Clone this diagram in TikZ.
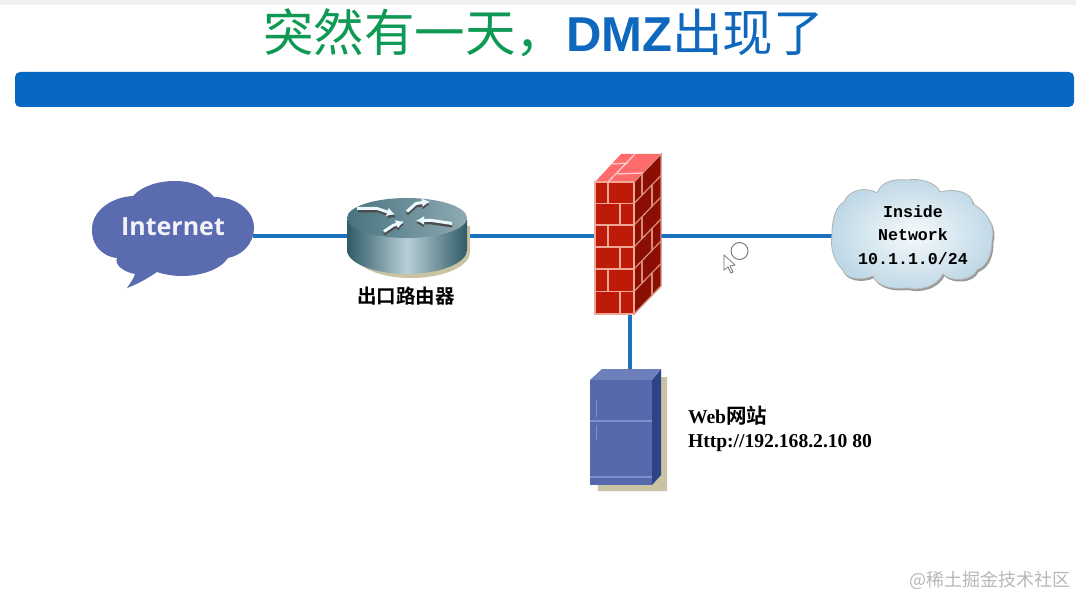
\documentclass[tikz,border=0pt]{standalone}
\usepackage{fontspec}
\usetikzlibrary{arrows.meta}
\setmainfont{Liberation Serif}
\newfontfamily\cjk{Noto Sans CJK SC}
\newfontfamily\cjkb{Noto Sans CJK SC}[BoldFont={Noto Sans CJK SC Bold}]
\newfontfamily\arialb{Liberation Sans}[Scale=1]
\newfontfamily\monob{Liberation Mono}
\newfontfamily\opensans{Open Sans}
\definecolor{linkblue}{HTML}{1C72BC}
\definecolor{barblue}{HTML}{0768C3}
\definecolor{titlegreen}{HTML}{0E9A55}
\definecolor{titleblue}{HTML}{0F68BE}
\definecolor{cloudblue}{HTML}{5A6BB0}
\definecolor{brick}{HTML}{BD1A08}
\definecolor{brickside}{HTML}{8A0E02}
\definecolor{mortar}{HTML}{EFA898}
\definecolor{mortarside}{HTML}{D88A78}
\definecolor{bricktop}{HTML}{FF6A6A}
\definecolor{tan}{HTML}{C9C3A4}
\definecolor{srvfront}{HTML}{5669AD}
\definecolor{srvside}{HTML}{2E4488}
\definecolor{srvtop}{HTML}{6E80BC}
\definecolor{srvline}{HTML}{8090C8}
\definecolor{rdark}{HTML}{2F5A66}
\definecolor{rlight}{HTML}{B7D0D6}
\definecolor{rtopa}{HTML}{47737F}
\definecolor{rtopb}{HTML}{8FAAB2}
\definecolor{cloudin}{HTML}{F6FAFC}
\definecolor{cloudout}{HTML}{BFD8E6}
\tikzset{
  anchorbox/.style={inner sep=0pt,outer sep=0pt,minimum height=#1},
  link/.style={draw=linkblue,line width=3.5pt},
  rarrow/.style={draw=white!92!cyan,line width=3pt,-{Latex[length=8pt,width=9pt]}},
  rshade/.style={draw=black!70,line width=3pt,-{Latex[length=8pt,width=9pt]}},
  fwline/.style={draw=mortar,line width=1.3pt},
  sideline/.style={draw=mortarside,line width=1.3pt},
  lbl/.style={inner sep=0pt,outer sep=0pt,anchor=base west}
}
\begin{document}
\begin{tikzpicture}[x=1pt,y=-1pt]
\useasboundingbox (0,0) rectangle (1076,596);
\fill[white] (0,0) rectangle (1076,596);
\fill[black!6] (0,0) rectangle (1076,5);

% title and bar
\node[lbl] (title) at (263,52) {\fontsize{50.5}{55}\selectfont\cjk\color{titlegreen}突然有一天，{\arialb\bfseries\color{titleblue}\fontsize{49}{55}\selectfont DMZ}{\color{titleblue}出现了}};
\fill[barblue,rounded corners=5pt] (15,72) rectangle (1074,107);

% anchor nodes
\node[anchorbox=90pt,minimum width=160pt] (internet) at (173,236) {};
\node[anchorbox=76pt,minimum width=120pt] (router) at (407,236) {};
\node[anchorbox=4pt,minimum width=4pt] (fw) at (630,236) {};
\node[anchorbox=116pt,minimum width=62pt] (server) at (630,427) {};
\node[anchorbox=90pt,minimum width=160pt] (inside) at (913,236) {};

% connectors
\draw[link] (internet.east) -- (router.west);
\draw[link] (router.east) -- (fw.center);
\draw[link] (fw.center) -- (inside.west);
\draw[link] (fw.center) -- (server.north);

% Internet cloud
\fill[cloudblue] (127,288) .. controls (131,282) and (134,278) .. (135,274)
  .. controls (124,272) and (114,265) .. (117,258)
  .. controls (100,256) and (91,243) .. (92,228)
  .. controls (93,210) and (112,197) .. (133,196)
  .. controls (142,186) and (158,181) .. (175,181)
  .. controls (192,181) and (206,187) .. (214,197)
  .. controls (236,197) and (254,210) .. (254,228)
  .. controls (254,243) and (243,255) .. (228,258)
  .. controls (220,270) and (200,276) .. (182,276)
  .. controls (172,276) and (163,274) .. (157,272)
  .. controls (148,278) and (138,284) .. (127,288) -- cycle;
\node[inner sep=0pt,text=white!92!cloudblue] (internettext) at (173,227) {\fontsize{25}{28}\selectfont\opensans\bfseries Internet};

% router
\fill[tan] (380,262) -- (350,250) .. controls (352,266) and (379,278) .. (410,278)
  .. controls (445,278) and (470,266) .. (470,252) -- (470,226) -- (466,226) -- cycle;
\shade[left color=rdark,right color=rdark,middle color=rlight]
  (347,220) -- (347,250) .. controls (347,263) and (374,274) .. (407,274)
  .. controls (440,274) and (467,263) .. (467,250) -- (467,220) -- cycle;
\shade[left color=rtopa,right color=rtopb]
  (347,218) .. controls (347,207) and (374,198) .. (407,198)
  .. controls (440,198) and (467,207) .. (467,218)
  .. controls (467,229) and (440,238) .. (407,238)
  .. controls (374,238) and (347,229) .. (347,218) -- cycle;
\draw[rshade] (358,211) -- (378,211) -- (396,217);
\draw[rarrow] (357,208.5) -- (377,208.5) -- (395,214.5);
\draw[rshade] (407,214) -- (416,206) -- (430,204);
\draw[rarrow] (407,211.5) -- (416,203.5) -- (430,201.5);
\draw[rshade] (452,226) -- (432,223) -- (416,223);
\draw[rarrow] (452,223.5) -- (432,220.5) -- (416,220.5);
\draw[rshade] (384,234) -- (393,228) -- (404,224);
\draw[rarrow] (384,231.5) -- (393,225.5) -- (404,221.5);
\node[lbl] (routerlabel) at (357,303) {\fontsize{19.5}{22}\selectfont\cjkb\bfseries 出口路由器};

% firewall
\fill[brick] (595,182) rectangle (634,314);
\fill[brickside] (634,182) -- (661,154) -- (661,286) -- (634,314) -- cycle;
\fill[bricktop] (595,182) -- (621,154) -- (661,154) -- (634,182) -- cycle;
\foreach \v in {203.5,225,247,269,291.5}{
  \draw[fwline] (595,\v) -- (634,\v);
  \draw[sideline] (634,\v) -- (661,\v-28);
}
\draw[fwline] (595,182) -- (634,182) -- (634,314) -- (595,314) -- cycle;
\draw[sideline] (634,182) -- (661,154) -- (661,286) -- (634,314);
\foreach \a/\b in {182/203.5,225/247,269/291.5} \draw[fwline] (608,\a) -- (608,\b);
\foreach \a/\b in {203.5/225,247/269,291.5/314} \draw[fwline] (620,\a) -- (620,\b);
\foreach \a/\b in {182/203.5,225/247,269/291.5} \draw[sideline] (642,\a-8.3) -- (642,\b-8.3);
\foreach \a/\b in {203.5/225,247/269,291.5/314} \draw[sideline] (652,\a-18.7) -- (652,\b-18.7);
\draw[draw=white!65!bricktop,line width=1.3pt] (608,182) -- (635,154);
\draw[draw=white!65!bricktop,line width=1.3pt] (617,174) -- (643,173);
\draw[draw=white!65!bricktop,line width=1.3pt] (612,164) -- (628,163);

% server
\fill[tan] (598,491) -- (667,491) -- (667,377) -- (652,377) -- (652,485) -- (598,485) -- cycle;
\fill[srvfront] (590,380) rectangle (652,485);
\fill[srvside] (652,380) -- (661,369) -- (661,475) -- (652,485) -- cycle;
\fill[srvtop] (590,380) -- (602,369) -- (661,369) -- (652,380) -- cycle;
\draw[srvline,line width=1.4pt] (590,421) -- (652,421);
\draw[srvline,line width=1.4pt] (590,477) -- (652,477);
\draw[srvline,line width=1pt] (596,400) -- (596,417);
\draw[srvline,line width=1pt] (596,425) -- (596,440);
\node[lbl] (weblabel) at (688,423) {\fontsize{19.6}{20}\selectfont\bfseries Web{\cjkb\bfseries\fontsize{20.5}{20}\selectfont 网站}};
\node[lbl] (httplabel) at (688,447) {\fontsize{19.6}{20}\selectfont\bfseries Http://192.168.2.10 80};

% inside cloud
\begin{scope}
\def\cloudpath{(832,235) .. controls (832,218) and (836,206) .. (844,202)
  .. controls (848,190) and (866,186) .. (877,193)
  .. controls (882,180) and (896,179) .. (907,180)
  .. controls (920,178) and (936,182) .. (940,192)
  .. controls (955,188) and (972,192) .. (973,204)
  .. controls (988,212) and (996,228) .. (992,240)
  .. controls (992,256) and (987,266) .. (977,270)
  .. controls (972,282) and (950,282) .. (943,274)
  .. controls (936,288) and (918,291) .. (907,288)
  .. controls (892,290) and (876,286) .. (873,276)
  .. controls (860,282) and (844,278) .. (843,270)
  .. controls (834,262) and (830,248) .. (832,235) -- cycle}
\fill[black!40,xshift=1.5pt,yshift=-2pt] \cloudpath;
\shade[inner color=cloudin,outer color=cloudout,draw=black!30,line width=.8pt] \cloudpath;
\end{scope}
\node[inner sep=0pt,align=center,font=\monob\bfseries\fontsize{16.6}{23.5}\selectfont] (insidetext) at (913,235) {Inside\\Network\\10.1.1.0/24};

% pointer
\node[draw=black!55,circle,fill=white,minimum size=17pt,inner sep=0pt,line width=.9pt] (pointer) at (739.5,251) {};
\draw[black!55,fill=white,line width=.7pt] (724,255) -- (724,270) -- (728,267) -- (731,273) -- (733,272) -- (730,266) -- (735,265) -- cycle;

% watermark
\node[lbl] (watermark) at (909,586) {\fontsize{18}{20}\selectfont\cjk\color{black!28}@稀土掘金技术社区};
\end{tikzpicture}
\end{document}
